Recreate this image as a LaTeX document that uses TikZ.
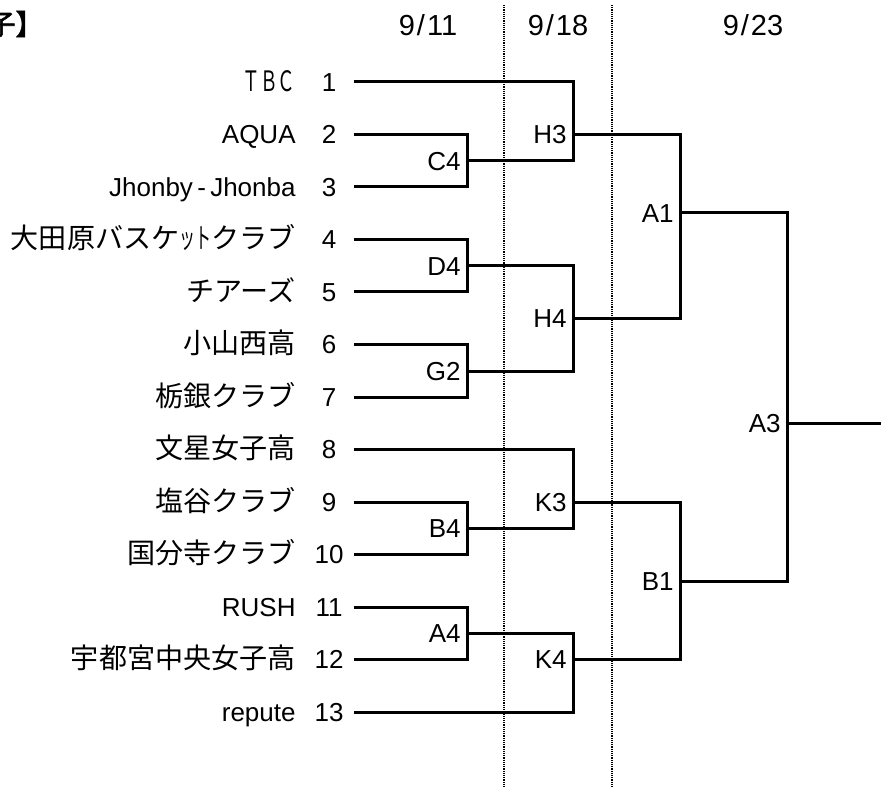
\documentclass[tikz,border=0pt]{standalone}
\usepackage{fontspec}
\setmainfont{Liberation Sans}
\newfontfamily\cjk[Scale=1.08,AutoFakeBold=2]{Noto Sans CJK JP}

\begin{document}
\begin{tikzpicture}[x=0.5pt,y=-0.5pt,
    every node/.style={font=\fontsize{13pt}{15pt}\selectfont,inner sep=0pt,text height=9.4pt,text depth=0pt},
    team/.style={anchor=east},
    game/.style={anchor=east,xshift=-3pt},
    day/.style={font=\fontsize{14.5pt}{17pt}\selectfont,text height=10.4pt},
    bracket/.style={line width=1.5pt},
    dayline/.style={line width=1.4pt,dash pattern=on 0.6pt off 0.5pt}]
  \useasboundingbox (0,0) rectangle (881,790);
  % days
  \draw[dayline] (504,5) -- (504,788);
  \draw[dayline] (612,5) -- (612,788);
  \node[anchor=east,text height=,text depth=] (title) at (44,24) {\cjk\bfseries 子】};
  \node[day] (d1) at (428,25) {9\kern1pt/\kern1pt11};
  \node[day] (d2) at (558,25) {9\kern1pt/\kern1pt18};
  \node[day] (d3) at (753,25) {9\kern1pt/\kern1pt23};
  % teams
  \node[team] (n1) at (296,82) {\scalebox{0.63}[1]{\cjk ＴＢＣ}};      \node (s1) at (329,82) {1};
  \node[team] (n2) at (296,134.5) {AQUA};                            \node (s2) at (329,134.5) {2};
  \node[team] (n3) at (296,187) {Jhonby\,-\,Jhonba};                 \node (s3) at (329,187) {3};
  \node[team] (n4) at (296,239.5) {\cjk 大田原バスケ\scalebox{0.57}[1]{ット}クラブ}; \node (s4) at (329,239.5) {4};
  \node[team] (n5) at (296,292) {\cjk チアーズ};                     \node (s5) at (329,292) {5};
  \node[team] (n6) at (296,344.5) {\cjk 小山西高};                   \node (s6) at (329,344.5) {6};
  \node[team] (n7) at (296,397) {\cjk 栃銀クラブ};                   \node (s7) at (329,397) {7};
  \node[team] (n8) at (296,449.5) {\cjk 文星女子高};                 \node (s8) at (329,449.5) {8};
  \node[team] (n9) at (296,502) {\cjk 塩谷クラブ};                   \node (s9) at (329,502) {9};
  \node[team] (n10) at (296,554.5) {\cjk 国分寺クラブ};              \node (s10) at (329,554.5) {10};
  \node[team] (n11) at (296,607) {RUSH};                             \node (s11) at (329,607) {11};
  \node[team] (n12) at (296,659.5) {\cjk 宇都宮中央女子高};          \node (s12) at (329,659.5) {12};
  \node[team] (n13) at (296,712) {repute};                           \node (s13) at (329,712) {13};
  \coordinate (t1) at (354,82);    \coordinate (t2) at (354,134.5);
  \coordinate (t3) at (354,187);   \coordinate (t4) at (354,239.5);
  \coordinate (t5) at (354,292);   \coordinate (t6) at (354,344.5);
  \coordinate (t7) at (354,397);   \coordinate (t8) at (354,449.5);
  \coordinate (t9) at (354,502);   \coordinate (t10) at (354,554.5);
  \coordinate (t11) at (354,607);  \coordinate (t12) at (354,659.5);
  \coordinate (t13) at (354,712);
  % games
  \coordinate (C4) at (467,161);   \node[game] at (C4) {C4};
  \coordinate (D4) at (467,266);   \node[game] at (D4) {D4};
  \coordinate (G2) at (467,371);   \node[game] at (G2) {G2};
  \coordinate (B4) at (467,528);   \node[game] at (B4) {B4};
  \coordinate (A4) at (467,633);   \node[game] at (A4) {A4};
  \coordinate (H3) at (573,134.5); \node[game] at (H3) {H3};
  \coordinate (H4) at (573,318.5); \node[game] at (H4) {H4};
  \coordinate (K3) at (573,502);   \node[game] at (K3) {K3};
  \coordinate (K4) at (573,659.5); \node[game] at (K4) {K4};
  \coordinate (A1) at (680,213);   \node[game] at (A1) {A1};
  \coordinate (B1) at (680,581);   \node[game] at (B1) {B1};
  \coordinate (A3) at (787,423);   \node[game] at (A3) {A3};
  \coordinate (win) at (882,423);
  % bracket
  \draw[bracket] (t2) -| (C4) |- (t3);
  \draw[bracket] (t4) -| (D4) |- (t5);
  \draw[bracket] (t6) -| (G2) |- (t7);
  \draw[bracket] (t9) -| (B4) |- (t10);
  \draw[bracket] (t11) -| (A4) |- (t12);
  \draw[bracket] (t1) -| (H3) |- (C4);
  \draw[bracket] (D4) -| (H4) |- (G2);
  \draw[bracket] (t8) -| (K3) |- (B4);
  \draw[bracket] (A4) -| (K4) |- (t13);
  \draw[bracket] (H3) -| (A1) |- (H4);
  \draw[bracket] (K3) -| (B1) |- (K4);
  \draw[bracket] (A1) -| (A3) |- (B1);
  \draw[bracket] (A3) -- (win);
\end{tikzpicture}
\end{document}
